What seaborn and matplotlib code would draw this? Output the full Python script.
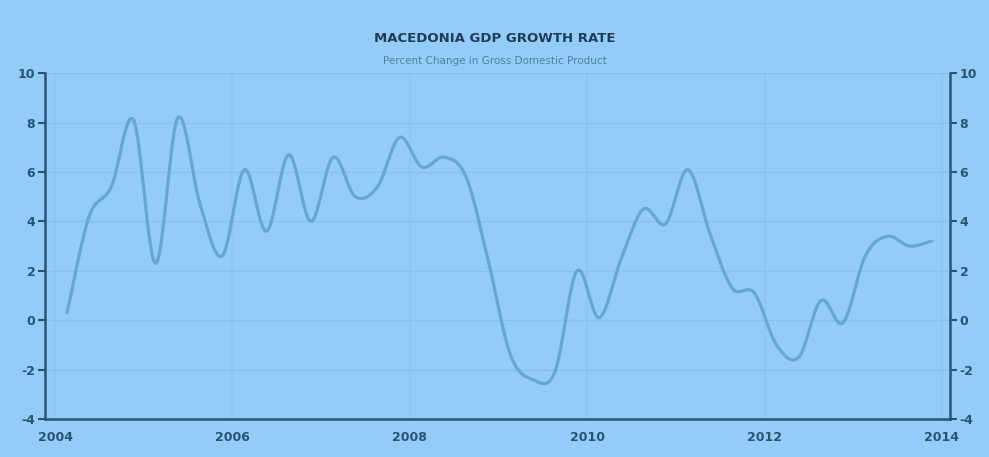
import numpy as np
import pandas as pd
import matplotlib
matplotlib.use("Agg")
import matplotlib.pyplot as plt
import seaborn as sns

# Quarterly GDP growth, 2004Q1 - 2013Q4
quarters = 2004.135 + 0.25 * np.arange(40)
growth = [0.3, 4.2, 5.4, 8.1, 2.3, 8.2, 4.7, 2.6,
          6.1, 3.6, 6.7, 4.0, 6.6, 5.0, 5.4, 7.4,
          6.2, 6.6, 5.8, 2.4, -1.4, -2.4, -2.1, 2.0,
          0.1, 2.5, 4.5, 3.9, 6.1, 3.5, 1.3, 1.1,
          -1.0, -1.5, 0.8, -0.1, 2.6, 3.4, 3.0, 3.2]
year_ticks = [2004, 2006, 2008, 2010, 2012, 2014]
y_ticks = [-4, -2, 0, 2, 4, 6, 8, 10]

bg = "#93cdf7"
dark = "#2a5373"


def smooth(x, y, n=16):
    # Catmull-Rom spline rendering, like the original chart's spline line
    x = np.asarray(x, float)
    y = np.asarray(y, float)
    m = np.gradient(y)
    xs, ys = [], []
    for i in range(len(y) - 1):
        t = np.linspace(0, 1, n, endpoint=False)
        h00 = 2 * t**3 - 3 * t**2 + 1
        h10 = t**3 - 2 * t**2 + t
        h01 = -2 * t**3 + 3 * t**2
        h11 = t**3 - t**2
        xs.append(x[i] + t * (x[i + 1] - x[i]))
        ys.append(h00 * y[i] + h10 * m[i] + h01 * y[i + 1] + h11 * m[i + 1])
    xs.append([x[-1]])
    ys.append([y[-1]])
    return np.concatenate(xs), np.concatenate(ys)


sx, sy = smooth(quarters, growth)
df = pd.DataFrame({"year": sx, "growth": sy})

sns.set_style("white")
plt.rcParams["axes.unicode_minus"] = False
fig = plt.figure(figsize=(9.89, 4.57), dpi=100, facecolor=bg)
ax = fig.add_axes([0.0455, 0.083, 0.915, 0.757], facecolor=bg)

sns.lineplot(data=df, x="year", y="growth", ax=ax, color="#65a3d4",
             linewidth=2.3, alpha=0.95, zorder=3)

ax.set_xlim(2003.887, 2014.09)
ax.set_ylim(-4, 10)
ax.set_xticks(year_ticks)
ax.set_yticks(y_ticks)
ax.set_xlabel("")
ax.set_ylabel("")

ax.grid(True, axis="y", color="#87c0e9", linewidth=1.0, zorder=0)
ax.grid(True, axis="x", color="#8cc6f0", linewidth=1.2, zorder=0)

ax.spines["top"].set_visible(False)
for side in ["left", "right", "bottom"]:
    ax.spines[side].set_color(dark)
    ax.spines[side].set_linewidth(1.8)

ax.tick_params(axis="y", which="both", left=True, right=True, labelleft=True,
               labelright=True, direction="out", length=5, width=1.5,
               color=dark, labelcolor=dark, labelsize=9, pad=2)
ax.tick_params(axis="x", direction="inout", length=5, width=1.2,
               color=dark, labelcolor=dark, labelsize=9, pad=6)
for lab in ax.get_xticklabels() + ax.get_yticklabels():
    lab.set_fontweight("bold")

fig.text(0.5, 0.915, "MACEDONIA GDP GROWTH RATE", ha="center", va="center",
         fontsize=9.5, fontweight="bold", color="#1f3b58")
fig.text(0.5, 0.866, "Percent Change in Gross Domestic Product", ha="center",
         va="center", fontsize=7.5, color="#4f7ea6")

fig.savefig("out.png", dpi=100, facecolor=bg)
